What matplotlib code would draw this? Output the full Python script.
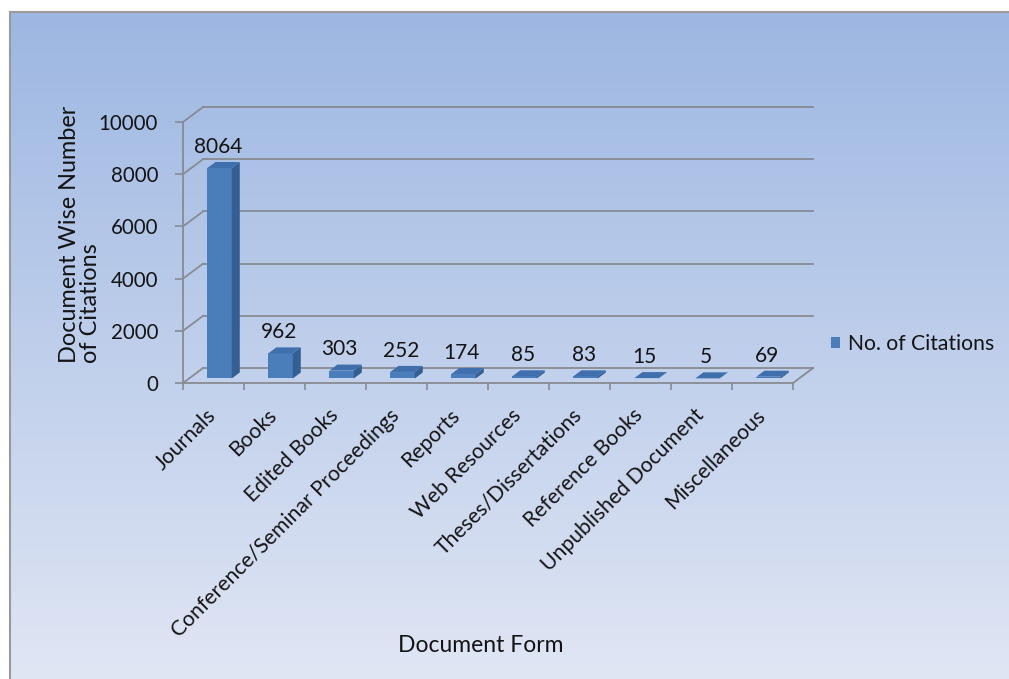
import numpy as np
import matplotlib
matplotlib.use("Agg")
import matplotlib.pyplot as plt
from matplotlib.patches import Polygon, Rectangle

# Citation counts by document form
categories = ["Journals", "Books", "Edited Books", "Conference/Seminar Proceedings",
              "Reports", "Web Resources", "Theses/Dissertations", "Reference Books",
              "Unpublished Document", "Miscellaneous"]
citations = [8064, 962, 303, 252, 174, 85, 83, 15, 5, 69]
y_ticks = [0, 2000, 4000, 6000, 8000, 10000]
series_name = "No. of Citations"

plt.rcParams["font.family"] = ["Lato", "DejaVu Sans"]
TEXT = "#141414"
GRID = "#878b92"
FRONT = "#4a7ebb"
SIDE = "#345f93"
TOP = "#3f6fad"

W, H = 1009, 679
fig = plt.figure(figsize=(W / 100, H / 100), dpi=100)
fig.patch.set_facecolor("white")

# gradient chart area with a thin frame
bg = fig.add_axes([10 / W, 0, 1 - 10 / W, 1 - 12 / H])
bg.set_axis_off()
top_c = np.array([157, 183, 226]) / 255
bot_c = np.array([224, 230, 244]) / 255
t = np.linspace(0, 1, 256)[:, None]
grad = top_c[None, :] * (1 - t) + bot_c[None, :] * t
bg.imshow(grad[:, None, :], aspect="auto", extent=[0, 1, 0, 1])
bg.set_xlim(0, 1)
bg.set_ylim(0, 1)
fig.add_artist(Rectangle((10 / W, -0.01), 1.0, 1 - 12 / H + 0.01, transform=fig.transFigure,
                         fill=False, edgecolor="#9a9a9a", linewidth=1.5))

# plot area (front plane of the 3-D box)
ax = fig.add_axes([183 / W, 1 - 383 / H, (793 - 183) / W, (383 - 122) / H])
ax.set_facecolor("none")
n = len(categories)
ax.set_xlim(0, n)
ax.set_ylim(0, 10000)

# depth offset of the box (category units, value units)
DX, DY = 0.33, 575.0

for v in y_ticks:
    ax.plot([DX, n + DX], [v + DY, v + DY], color=GRID, lw=1.3, clip_on=False, zorder=1)
    ax.plot([0, DX], [v, v + DY], color=GRID, lw=1.3, clip_on=False, zorder=1)
ax.plot([n, n + DX], [0, DY], color=GRID, lw=1.3, clip_on=False, zorder=1)

# 3-D columns: front faces via bar, side and top faces from the same values
f0, f1 = 0.3, 0.7
bw = 0.4
xc = np.arange(n) + 0.5 + f0 * DX
base = f0 * DY
ddx, ddy = (f1 - f0) * DX, (f1 - f0) * DY
bars = ax.bar(xc, citations, width=bw, bottom=base, color=FRONT, zorder=3,
              clip_on=False, label=series_name, linewidth=0)
for x, v in zip(xc, citations):
    x0, x1 = x - bw / 2, x + bw / 2
    ax.add_patch(Polygon([(x1, base), (x1 + ddx, base + ddy), (x1 + ddx, base + ddy + v),
                          (x1, base + v)], closed=True, facecolor=SIDE, edgecolor="none",
                         zorder=3, clip_on=False))
    ax.add_patch(Polygon([(x0, base + v), (x1, base + v), (x1 + ddx, base + v + ddy),
                          (x0 + ddx, base + v + ddy)], closed=True, facecolor=TOP,
                         edgecolor="none", zorder=3, clip_on=False))
    ax.text(x - 0.03, v + 600, f"{v}", ha="center", va="bottom", fontsize=15, color=TEXT, zorder=4)

for side in ("top", "right"):
    ax.spines[side].set_visible(False)
for side in ("left", "bottom"):
    ax.spines[side].set_color(GRID)
    ax.spines[side].set_linewidth(1.3)

ax.set_yticks(y_ticks)
ax.set_yticklabels([str(v) for v in y_ticks])
ax.tick_params(axis="y", direction="out", length=6, width=1.2, color=GRID,
               labelsize=14.8, labelcolor=TEXT, pad=12)
ax.set_xticks(np.arange(n + 1))
ax.set_xticklabels([])
ax.tick_params(axis="x", which="major", direction="out", length=5, width=1.2, color=GRID)
ax.set_xticks(np.arange(n) + 0.49, minor=True)
ax.set_xticklabels(categories, minor=True, rotation=45, ha="right",
                   rotation_mode="anchor", fontsize=15.2, color=TEXT)
ax.tick_params(axis="x", which="minor", length=0, pad=21)
for lab in ax.get_xticklabels(minor=True):
    lab.set_verticalalignment("center")

fig.text(80 / W, 1 - 363 / H, "Document Wise Number\nof Citations", rotation=90,
         ha="center", va="bottom", multialignment="left", fontsize=16.9, color=TEXT,
         linespacing=1.0)
fig.text(481 / W, 1 - 645 / H, "Document Form", ha="center", va="center",
         fontsize=16.5, color=TEXT)

fig.legend(handles=[bars], labels=[series_name], loc="center left",
           bbox_to_anchor=(831 / W, 1 - 344 / H), frameon=False, fontsize=15.2,
           handlelength=0.42, handleheight=0.42, handletextpad=0.38, borderpad=0,
           borderaxespad=0, labelcolor=TEXT)

fig.savefig("out.png", dpi=100)
